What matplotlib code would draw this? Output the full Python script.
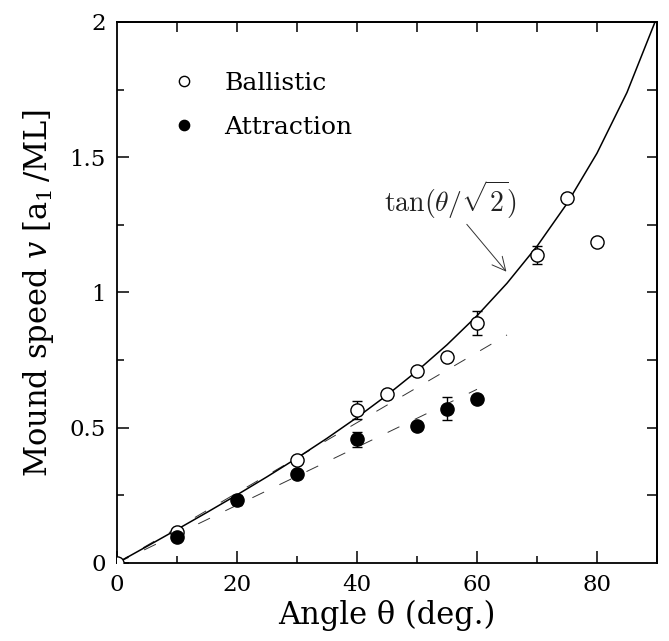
import numpy as np
import matplotlib
matplotlib.use("Agg")
import matplotlib.pyplot as plt
from matplotlib.ticker import MultipleLocator

plt.rcParams["font.family"] = ["DejaVu Serif"]
plt.rcParams["mathtext.fontset"] = "dejavuserif"

# Ballistic deposition (open circles)
ball_angle = [0, 10, 30, 40, 45, 50, 55, 60, 70, 75, 80]
ball_speed = [0.0, 0.115, 0.381, 0.566, 0.624, 0.71, 0.763, 0.886, 1.139, 1.348, 1.188]
ball_err = [0, 0, 0, 0.034, 0, 0, 0, 0.045, 0.033, 0, 0]

# Deposition with attraction (filled circles)
attr_angle = [10, 20, 30, 40, 50, 55, 60]
attr_speed = [0.097, 0.233, 0.328, 0.457, 0.506, 0.570, 0.606]
attr_err = [0, 0.02, 0, 0.027, 0.015, 0.042, 0]

# Straight dashed guides
upper_guide_x = [0, 65]
upper_guide_y = [0.0, 0.843]
lower_guide_x = [0, 60]
lower_guide_y = [0.0, 0.642]

# tan(theta/sqrt(2)) sampled every 5 degrees
theory_angle = np.arange(0, 91, 5)
theory_speed = np.tan(np.radians(theory_angle) / np.sqrt(2))

fig = plt.figure(figsize=(6.69, 6.41), dpi=100)
ax = fig.add_axes([0.175, 0.1217, 0.807, 0.844])

ax.plot(theory_angle, theory_speed, color="black", lw=1.1, zorder=2)
ax.plot(upper_guide_x, upper_guide_y, color="#333333", lw=0.7, dashes=(13.4, 17.5), zorder=1)
ax.plot(lower_guide_x, lower_guide_y, color="#333333", lw=0.7, dashes=(13.4, 17.5), zorder=1)

ball_yerr = [e if e > 0 else np.nan for e in ball_err]
attr_yerr = [e if e > 0 else np.nan for e in attr_err]
ax.errorbar(ball_angle, ball_speed, yerr=ball_yerr, fmt="o", ms=9.5, mfc="white",
            mec="black", mew=1.0, ecolor="black", elinewidth=1.0, capsize=3.5,
            capthick=1.0, zorder=4, label="Ballistic")
ax.errorbar(attr_angle, attr_speed, yerr=attr_yerr, fmt="o", ms=9.5, mfc="black",
            mec="black", mew=1.0, ecolor="black", elinewidth=1.0, capsize=3.5,
            capthick=1.0, zorder=4, label="Attraction")

ax.text(55.5, 1.342, r"$\tan(\theta/\sqrt{2})$", ha="center", va="center",
        fontsize=20, math_fontfamily="cm", color="#222222")
ax.annotate("", xy=(64.9, 1.077), xytext=(58.3, 1.252),
            arrowprops=dict(arrowstyle="->", color="#333333", lw=0.7,
                            shrinkA=0, shrinkB=0, mutation_scale=24))

ax.set_xlim(0, 90)
ax.set_ylim(0, 2)
ax.xaxis.set_minor_locator(MultipleLocator(10))
ax.yaxis.set_minor_locator(MultipleLocator(0.25))
ax.set_xticks([0, 20, 40, 60, 80])
ax.set_xticklabels(["0", "20", "40", "60", "80"])
ax.set_yticks([0, 0.5, 1, 1.5, 2])
ax.set_yticklabels(["0", "0.5", "1", "1.5", "2"])
ax.tick_params(which="major", direction="in", length=8.5, width=1.1, labelsize=16.5, pad=8)
ax.tick_params(which="minor", direction="in", length=5, width=1.1)

sx = ax.secondary_xaxis("top")
sx.set_xticks(np.arange(10, 90, 10))
sx.tick_params(direction="in", length=7, width=1.1, labeltop=False)
sy = ax.secondary_yaxis("right")
sy.set_yticks(np.arange(0.25, 2.0, 0.25))
sy.tick_params(direction="in", length=7, width=1.1, labelright=False)

for s in list(ax.spines.values()) + list(sx.spines.values()) + list(sy.spines.values()):
    s.set_linewidth(1.3)

ax.set_xlabel("Angle θ (deg.)", fontsize=22, labelpad=3)
ax.set_ylabel(r"Mound speed $v$ [a$_1$$\,$/ML]", fontsize=22, labelpad=10)

handles, labels = ax.get_legend_handles_labels()
handles = [h[0] for h in handles]
ax.legend(handles, labels, loc="upper left", bbox_to_anchor=(0.06, 0.95),
          frameon=False, fontsize=18, markerscale=0.78, handlelength=1.0,
          handletextpad=1.1, labelspacing=0.85)

fig.savefig("out.png", dpi=100)
